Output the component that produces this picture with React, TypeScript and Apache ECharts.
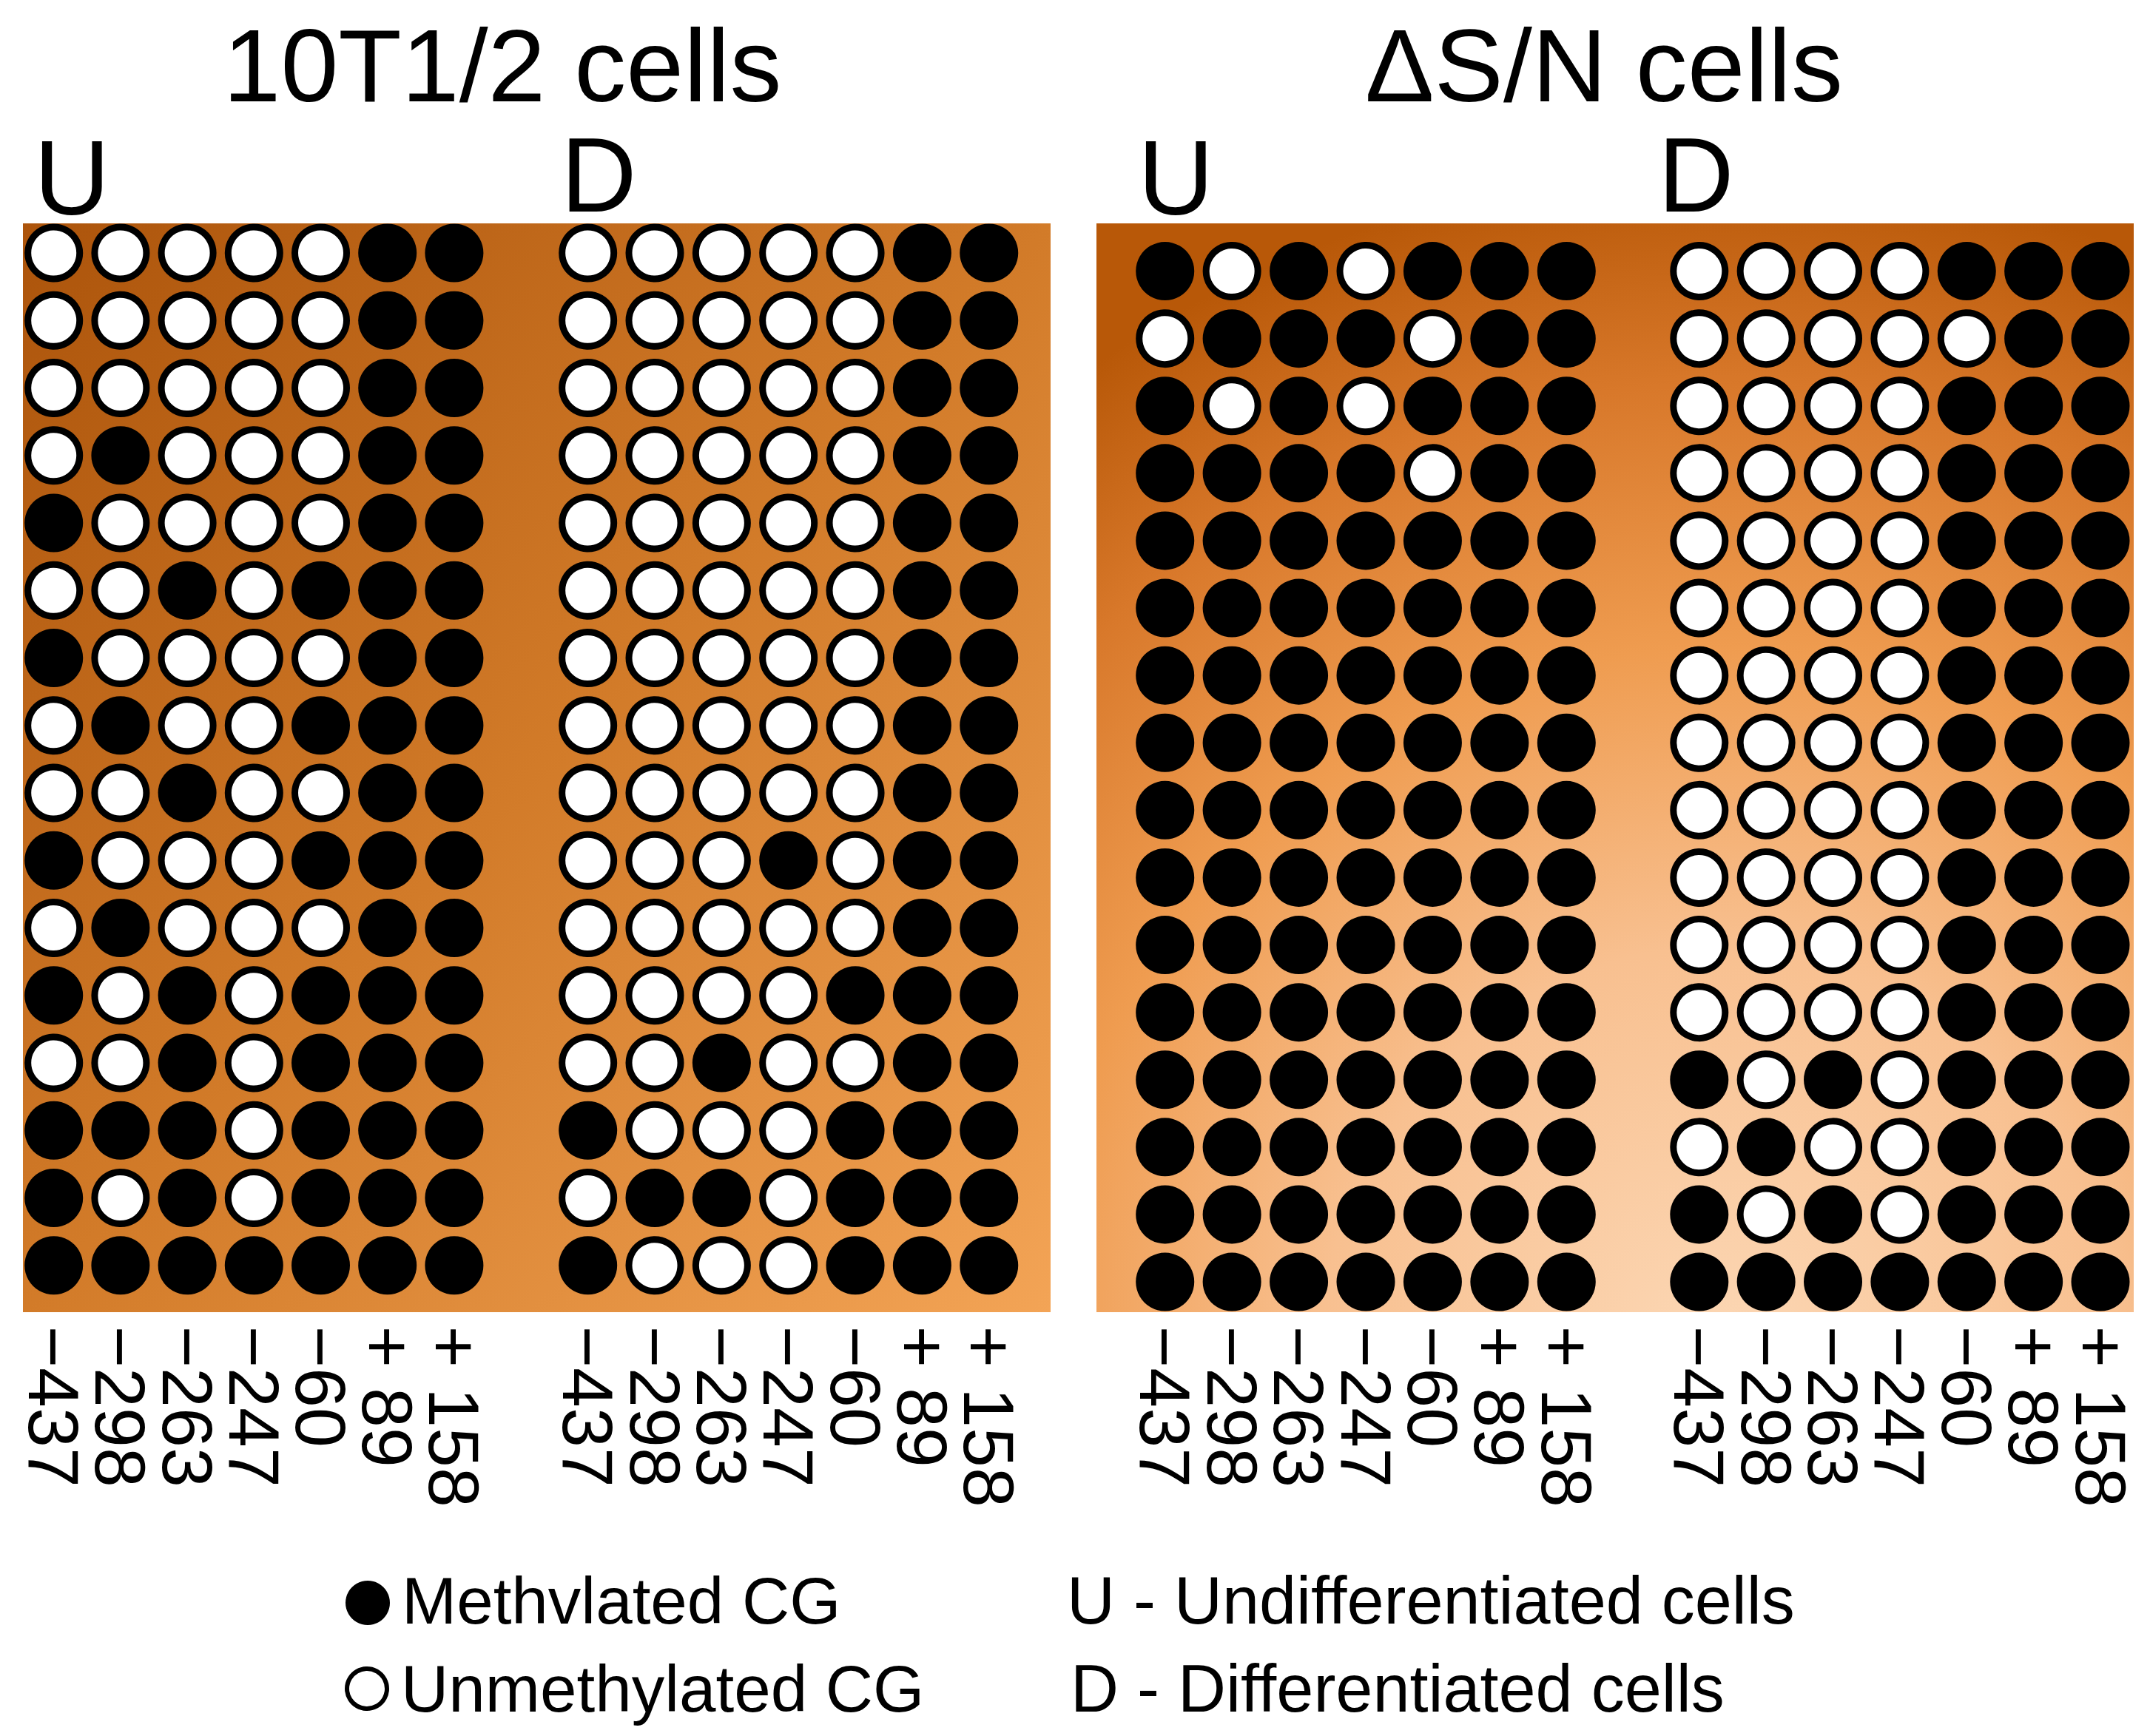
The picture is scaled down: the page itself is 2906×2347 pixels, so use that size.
import React, { useEffect, useRef } from "react";
import * as echarts from "echarts";

// CpG positions (column tick labels)
const positions = ["−437", "−298", "−263", "−247", "−60", "+ 89", "+ 158"];
// clone rows
const rowLabels = ["1", "2", "3", "4", "5", "6", "7", "8", "9", "10", "11", "12", "13", "14", "15", "16"];

// 1 = methylated CG, 0 = unmethylated CG
const u10T12 = [
  [0, 0, 0, 0, 0, 1, 1],
  [0, 0, 0, 0, 0, 1, 1],
  [0, 0, 0, 0, 0, 1, 1],
  [0, 1, 0, 0, 0, 1, 1],
  [1, 0, 0, 0, 0, 1, 1],
  [0, 0, 1, 0, 1, 1, 1],
  [1, 0, 0, 0, 0, 1, 1],
  [0, 1, 0, 0, 1, 1, 1],
  [0, 0, 1, 0, 0, 1, 1],
  [1, 0, 0, 0, 1, 1, 1],
  [0, 1, 0, 0, 0, 1, 1],
  [1, 0, 1, 0, 1, 1, 1],
  [0, 0, 1, 0, 1, 1, 1],
  [1, 1, 1, 0, 1, 1, 1],
  [1, 0, 1, 0, 1, 1, 1],
  [1, 1, 1, 1, 1, 1, 1],
];
const d10T12 = [
  [0, 0, 0, 0, 0, 1, 1],
  [0, 0, 0, 0, 0, 1, 1],
  [0, 0, 0, 0, 0, 1, 1],
  [0, 0, 0, 0, 0, 1, 1],
  [0, 0, 0, 0, 0, 1, 1],
  [0, 0, 0, 0, 0, 1, 1],
  [0, 0, 0, 0, 0, 1, 1],
  [0, 0, 0, 0, 0, 1, 1],
  [0, 0, 0, 0, 0, 1, 1],
  [0, 0, 0, 1, 0, 1, 1],
  [0, 0, 0, 0, 0, 1, 1],
  [0, 0, 0, 0, 1, 1, 1],
  [0, 0, 1, 0, 0, 1, 1],
  [1, 0, 0, 0, 1, 1, 1],
  [0, 1, 1, 0, 1, 1, 1],
  [1, 0, 0, 0, 1, 1, 1],
];
const uDeltaSN = [
  [1, 0, 1, 0, 1, 1, 1],
  [0, 1, 1, 1, 0, 1, 1],
  [1, 0, 1, 0, 1, 1, 1],
  [1, 1, 1, 1, 0, 1, 1],
  [1, 1, 1, 1, 1, 1, 1],
  [1, 1, 1, 1, 1, 1, 1],
  [1, 1, 1, 1, 1, 1, 1],
  [1, 1, 1, 1, 1, 1, 1],
  [1, 1, 1, 1, 1, 1, 1],
  [1, 1, 1, 1, 1, 1, 1],
  [1, 1, 1, 1, 1, 1, 1],
  [1, 1, 1, 1, 1, 1, 1],
  [1, 1, 1, 1, 1, 1, 1],
  [1, 1, 1, 1, 1, 1, 1],
  [1, 1, 1, 1, 1, 1, 1],
  [1, 1, 1, 1, 1, 1, 1],
];
const dDeltaSN = [
  [0, 0, 0, 0, 1, 1, 1],
  [0, 0, 0, 0, 0, 1, 1],
  [0, 0, 0, 0, 1, 1, 1],
  [0, 0, 0, 0, 1, 1, 1],
  [0, 0, 0, 0, 1, 1, 1],
  [0, 0, 0, 0, 1, 1, 1],
  [0, 0, 0, 0, 1, 1, 1],
  [0, 0, 0, 0, 1, 1, 1],
  [0, 0, 0, 0, 1, 1, 1],
  [0, 0, 0, 0, 1, 1, 1],
  [0, 0, 0, 0, 1, 1, 1],
  [0, 0, 0, 0, 1, 1, 1],
  [1, 0, 1, 0, 1, 1, 1],
  [0, 1, 0, 0, 1, 1, 1],
  [1, 0, 1, 0, 1, 1, 1],
  [1, 1, 1, 1, 1, 1, 1],
];

const titles = ["10T1/2 cells", "ΔS/N cells"];
const groupLabels = ["U", "D", "U", "D"];
const legendMarks = ["Methvlated CG", "Unmethylated CG"];
const legendKeys = ["U - Undifferentiated cells", "D - Differentiated cells"];

const FONT = "'Liberation Sans', Arial, sans-serif";

export default function App() {
  const ref = useRef<HTMLDivElement>(null);

  useEffect(() => {
    if (!ref.current) return;
    const chart = echarts.init(ref.current, null, { renderer: "svg" });

    const panels = [
      { data: u10T12, left: 27.6, top: 296.4, width: 631.4, height: 1460, margin: 36 },
      { data: d10T12, left: 749.5, top: 296.4, width: 632.4, height: 1460, margin: 36 },
      { data: uDeltaSN, left: 1529.5, top: 321, width: 633, height: 1457.6, margin: 14 },
      { data: dDeltaSN, left: 2251.6, top: 321, width: 632.6, height: 1457.6, margin: 14 },
    ];

    const grid = panels.map((p) => ({
      left: p.left,
      top: p.top,
      width: p.width,
      height: p.height,
    }));

    const xAxis = panels.map((p, i) => ({
      type: "category",
      gridIndex: i,
      data: positions,
      position: "bottom",
      axisLine: { show: false },
      axisTick: { show: false },
      splitLine: { show: false },
      axisLabel: {
        interval: 0,
        rotate: -90,
        fontSize: 97,
        margin: p.margin,
        color: "#000",
        fontFamily: FONT,
      },
    }));

    const yAxis = panels.map((p, i) => ({
      type: "category",
      gridIndex: i,
      data: rowLabels,
      inverse: true,
      show: false,
    }));

    const series: any[] = [];
    panels.forEach((p, i) => {
      const meth: number[][] = [];
      const unmeth: number[][] = [];
      p.data.forEach((row, r) =>
        row.forEach((v, c) => {
          if (v === 1) meth.push([c, r]);
          else unmeth.push([c, r]);
        })
      );
      series.push({
        type: "scatter",
        name: legendMarks[0],
        xAxisIndex: i,
        yAxisIndex: i,
        symbol: "circle",
        symbolSize: 79,
        itemStyle: { color: "#000", opacity: 1 },
        clip: false,
        data: meth,
      });
      series.push({
        type: "scatter",
        name: legendMarks[1],
        xAxisIndex: i,
        yAxisIndex: i,
        symbol: "circle",
        symbolSize: 70,
        itemStyle: { color: "#fff", borderColor: "#000", borderWidth: 9, opacity: 1 },
        clip: false,
        data: unmeth,
      });
    });

    const leftBg = new echarts.graphic.LinearGradient(0, 0, 1, 1, [
      { offset: 0, color: "#ac540b" },
      { offset: 0.5, color: "#d27b29" },
      { offset: 1, color: "#f3a456" },
    ]);
    const rightBg = new echarts.graphic.RadialGradient(0.6, 1.05, 1.1, [
      { offset: 0, color: "#fcd8b6" },
      { offset: 0.35, color: "#f8c090" },
      { offset: 0.6, color: "#ef9c50" },
      { offset: 0.82, color: "#d8782a" },
      { offset: 1, color: "#b85808" },
    ]);

    const textStyle = (text: string, size: number, align: string) => ({
      text,
      fontSize: size,
      fontFamily: FONT,
      fill: "#000",
      align,
      verticalAlign: "middle",
    });

    const graphic: any[] = [
      { type: "rect", z: 0, shape: { x: 31, y: 302, width: 1389, height: 1472 }, style: { fill: leftBg } },
      { type: "rect", z: 0, shape: { x: 1482, y: 302, width: 1402, height: 1472 }, style: { fill: rightBg } },
      { type: "text", x: 679, y: 88, style: textStyle(titles[0], 140, "center") },
      { type: "text", x: 2168, y: 88, style: textStyle(titles[1], 140, "center") },
      { type: "text", x: 46, y: 240, style: textStyle(groupLabels[0], 142, "left") },
      { type: "text", x: 758, y: 236, style: textStyle(groupLabels[1], 142, "left") },
      { type: "text", x: 1538, y: 240, style: textStyle(groupLabels[2], 142, "left") },
      { type: "text", x: 2241, y: 236, style: textStyle(groupLabels[3], 142, "left") },
      { type: "circle", shape: { cx: 497, cy: 2167, r: 30 }, style: { fill: "#000" } },
      { type: "circle", shape: { cx: 496, cy: 2283, r: 27 }, style: { fill: "#fff", stroke: "#000", lineWidth: 6 } },
      { type: "text", x: 543, y: 2164, style: textStyle(legendMarks[0], 89, "left") },
      { type: "text", x: 542, y: 2283, style: textStyle(legendMarks[1], 89, "left") },
      { type: "text", x: 1442, y: 2164, style: textStyle(legendKeys[0], 90, "left") },
      { type: "text", x: 1447, y: 2283, style: textStyle(legendKeys[1], 90, "left") },
    ];

    chart.setOption({
      animation: false,
      backgroundColor: "#fff",
      grid,
      xAxis,
      yAxis,
      series,
      graphic,
    });

    return () => chart.dispose();
  }, []);

  return (
    <div
      ref={ref}
      style={{ position: "absolute", left: 0, top: 0, width: 2906, height: 2347 }}
    />
  );
}
